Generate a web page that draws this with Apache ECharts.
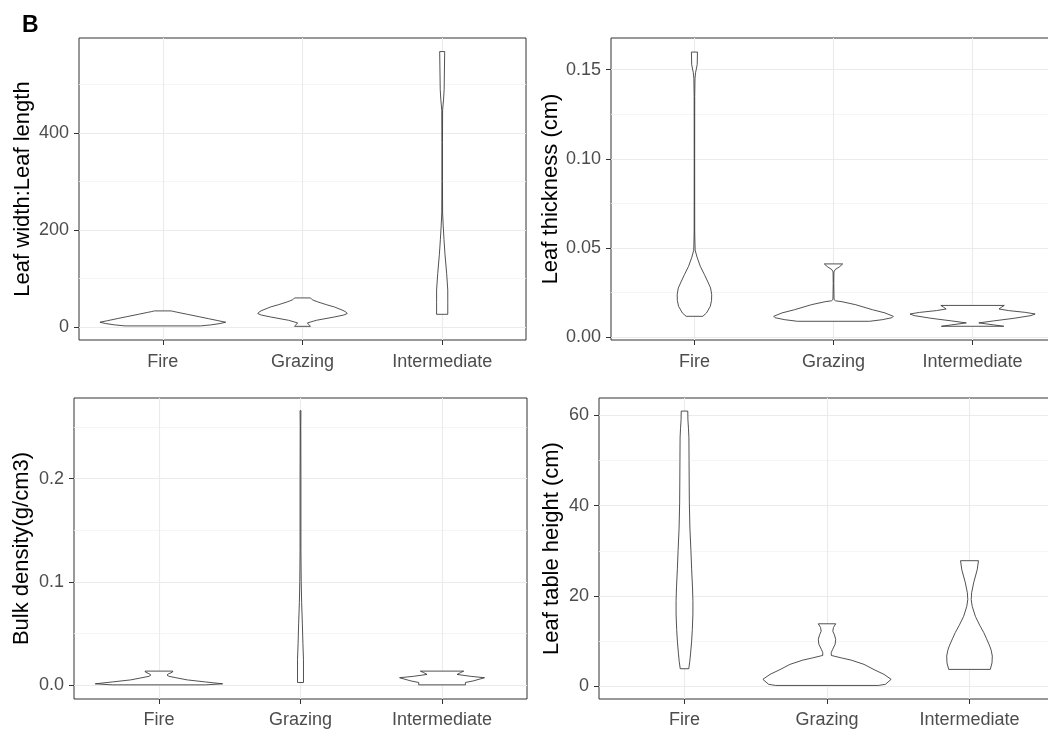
<!DOCTYPE html>
<html>
<head>
<meta charset="utf-8">
<script src="https://cdn.jsdelivr.net/npm/echarts@6/dist/echarts.min.js"></script>
<style>
html,body{margin:0;padding:0;background:#fff;}
#chart{width:1048px;height:731px;}
</style>
</head>
<body>
<div id="chart"></div>
<script>
// ---- data ----
const categories = ['Fire', 'Grazing', 'Intermediate'];

// violin outlines: [value, half-width in category units]
const ratioFire = [[2.1,0.27],[4,0.34],[7,0.41],[9.7,0.45],[13,0.394],[17,0.327],[21,0.26],[26,0.175],[30,0.108],[31.7,0.079],[33,0.06]];
const ratioGrazing = [[1.2,0.057],[3.4,0.05],[8.2,0.035],[13.7,0.1],[20.6,0.23],[24.5,0.295],[27.5,0.32],[31,0.31],[34,0.29],[41,0.23],[46,0.17],[51.5,0.11],[56,0.07],[59.8,0.057]];
const ratioInter = [[26,0.04],[50,0.04],[76,0.04],[110,0.032],[150,0.02],[180,0.013],[210,0.007],[235,0.003],[300,0.002],[380,0.002],[447,0.003],[470,0.01],[490,0.014],[530,0.016],[568,0.018]];

const thickFire = [[0.0116,0.06],[0.0135,0.087],[0.0172,0.114],[0.0205,0.123],[0.0238,0.124],[0.0275,0.116],[0.0303,0.10],[0.035,0.072],[0.0397,0.042],[0.0445,0.02],[0.0487,0.005],[0.055,0.003],[0.06,0.002],[0.10,0.0015],[0.135,0.002],[0.145,0.004],[0.1483,0.008],[0.151,0.015],[0.153,0.02],[0.1599,0.0216]];
const thickGrazing = [[0.0088,0.26],[0.0097,0.35],[0.0108,0.42],[0.0116,0.43],[0.0135,0.37],[0.0153,0.28],[0.0181,0.16],[0.0198,0.06],[0.0203,0.015],[0.021,0.004],[0.03,0.002],[0.0365,0.003],[0.0378,0.012],[0.0395,0.045],[0.041,0.066]];
const thickInter = [[0.006,0.224],[0.0068,0.15],[0.0079,0.045],[0.009,0.15],[0.0105,0.30],[0.012,0.42],[0.0129,0.45],[0.0138,0.38],[0.0148,0.26],[0.0157,0.19],[0.0168,0.21],[0.0177,0.228]];

const bulkFire = [[0.0002,0.33],[0.0012,0.45],[0.003,0.33],[0.005,0.2],[0.0071,0.12],[0.0085,0.07],[0.0097,0.057],[0.011,0.07],[0.0125,0.095],[0.0135,0.098]];
const bulkGrazing = [[0.0025,0.021],[0.025,0.021],[0.04,0.017],[0.06,0.013],[0.08,0.008],[0.1,0.005],[0.13,0.003],[0.2,0.003],[0.25,0.002],[0.2658,0.003]];
const bulkInter = [[0.0002,0.165],[0.0025,0.165],[0.004,0.22],[0.0071,0.30],[0.0085,0.2],[0.0103,0.106],[0.012,0.13],[0.0135,0.153]];

const heightFire = [[3.9,0.03],[5.5,0.037],[7.4,0.043],[10,0.05],[12.6,0.055],[16,0.059],[19,0.059],[22,0.056],[26,0.05],[30,0.045],[35,0.038],[40.6,0.034],[45,0.033],[50,0.032],[55,0.031],[57,0.028],[59,0.024],[60.9,0.023]];
const heightGrazing = [[0.2,0.36],[0.45,0.41],[1.55,0.45],[2.65,0.40],[3.7,0.33],[4.86,0.26],[5.8,0.17],[6.3,0.10],[6.84,0.03],[7.5,0.03],[8.2,0.04],[9.3,0.057],[10.4,0.061],[11.4,0.052],[12.2,0.041],[13,0.045],[13.84,0.061]];
const heightInter = [[3.75,0.146],[5.2,0.158],[6.7,0.16],[8,0.152],[8.9,0.142],[10.5,0.12],[11.9,0.10],[13.5,0.072],[15.5,0.041],[17.7,0.019],[19.2,0.012],[20.7,0.015],[22.9,0.029],[25.8,0.054],[27.8,0.063]];

const axisTitles = ['Leaf width:Leaf length', 'Leaf thickness (cm)', 'Bulk density(g/cm3)', 'Leaf table height (cm)'];
const ratioTicks = [0, 200, 400];        const ratioMinor = [100, 300, 500];
const thickTicks = [0, 0.05, 0.10, 0.15]; const thickMinor = [0.025, 0.075, 0.125];
const bulkTicks = [0, 0.1, 0.2];         const bulkMinor = [0.05, 0.15, 0.25];
const heightTicks = [0, 20, 40, 60];     const heightMinor = [10, 30, 50];
const panelLetter = 'B';

// ---- layout / style ----
const FONT = '"Liberation Sans", Arial, sans-serif';
const panels = [
  {grid:{left:79, top:38, width:447, height:302}, y:[-27, 596], ticks:ratioTicks, minor:ratioMinor, fmt:v=>String(v), gap:45, xm:13, violins:[ratioFire, ratioGrazing, ratioInter]},
  {grid:{left:611, top:38, width:445, height:302}, y:[-0.0017, 0.1678], ticks:thickTicks, minor:thickMinor, fmt:v=>v.toFixed(2), gap:49, xm:13, violins:[thickFire, thickGrazing, thickInter]},
  {grid:{left:74, top:398, width:453, height:301}, y:[-0.0135, 0.278], ticks:bulkTicks, minor:bulkMinor, fmt:v=>v.toFixed(1), gap:41, xm:12, violins:[bulkFire, bulkGrazing, bulkInter]},
  {grid:{left:599, top:398, width:456, height:301}, y:[-2.8, 63.8], ticks:heightTicks, minor:heightMinor, fmt:v=>String(v), gap:36, xm:12, violins:[heightFire, heightGrazing, heightInter]}
];

const grids = [], xAxes = [], yAxes = [], series = [];
panels.forEach((p, i) => {
  grids.push(Object.assign({show:true, borderColor:'#333', borderWidth:1, backgroundColor:'transparent', containLabel:false, outerBoundsMode:'none'}, p.grid));
  xAxes.push({
    gridIndex:i, type:'value', min:0.4, max:3.6, position:'bottom',
    axisLine:{show:false, onZero:false},
    axisTick:{show:true, inside:false, customValues:[1,2,3], length:5, lineStyle:{color:'#333', width:1}},
    axisLabel:{customValues:[1,2,3], formatter:v=>categories[Math.round(v)-1], color:'#4D4D4D', fontSize:18, fontFamily:FONT, margin:p.xm},
    splitLine:{show:true, lineStyle:{color:'#EBEBEB', width:1.1}}
  });
  yAxes.push({
    gridIndex:i, type:'value', min:p.y[0], max:p.y[1], position:'left',
    axisLine:{show:false, onZero:false},
    axisTick:{show:true, inside:false, customValues:p.ticks, length:5, lineStyle:{color:'#333', width:1}},
    axisLabel:{customValues:p.ticks, formatter:p.fmt, color:'#4D4D4D', fontSize:18, fontFamily:FONT, margin:10},
    splitLine:{show:true, lineStyle:{color:'#EBEBEB', width:1.1}},
    name:axisTitles[i], nameLocation:'middle', nameGap:p.gap,
    nameTextStyle:{color:'#000', fontSize:22, fontFamily:FONT}
  });
  yAxes.push({
    gridIndex:i, type:'value', min:p.y[0], max:p.y[1], position:'left',
    axisLine:{show:false, onZero:false},
    axisTick:{show:false, customValues:p.minor},
    axisLabel:{show:false, customValues:p.minor},
    splitLine:{show:true, lineStyle:{color:'#F2F2F2', width:0.8}}
  });
  const profiles = p.violins;
  series.push({
    type:'custom', xAxisIndex:i, yAxisIndex:2*i, z:5,
    data: profiles.map((prof, k) => [k+1, prof[0][0], prof[prof.length-1][0]]),
    encode:{x:0, y:[1,2]},
    renderItem:(params, api) => {
      const cx = api.value(0);
      const prof = profiles[params.dataIndex];
      const right = prof.map(d => api.coord([cx + d[1], d[0]]));
      const left = prof.slice().reverse().map(d => api.coord([cx - d[1], d[0]]));
      return {type:'polygon', shape:{points:right.concat(left)},
              style:{fill:'#fff', stroke:'#333', lineWidth:0.85}};
    },
    silent:true, animation:false
  });
});

const chart = echarts.init(document.getElementById('chart'), null, {renderer:'canvas'});
chart.setOption({
  animation:false,
  backgroundColor:'#fff',
  title:{text:panelLetter, left:22, top:14, padding:0, textStyle:{fontSize:23, fontWeight:'bold', color:'#000', fontFamily:FONT}},
  grid:grids, xAxis:xAxes, yAxis:yAxes, series:series
});
</script>
</body>
</html>
